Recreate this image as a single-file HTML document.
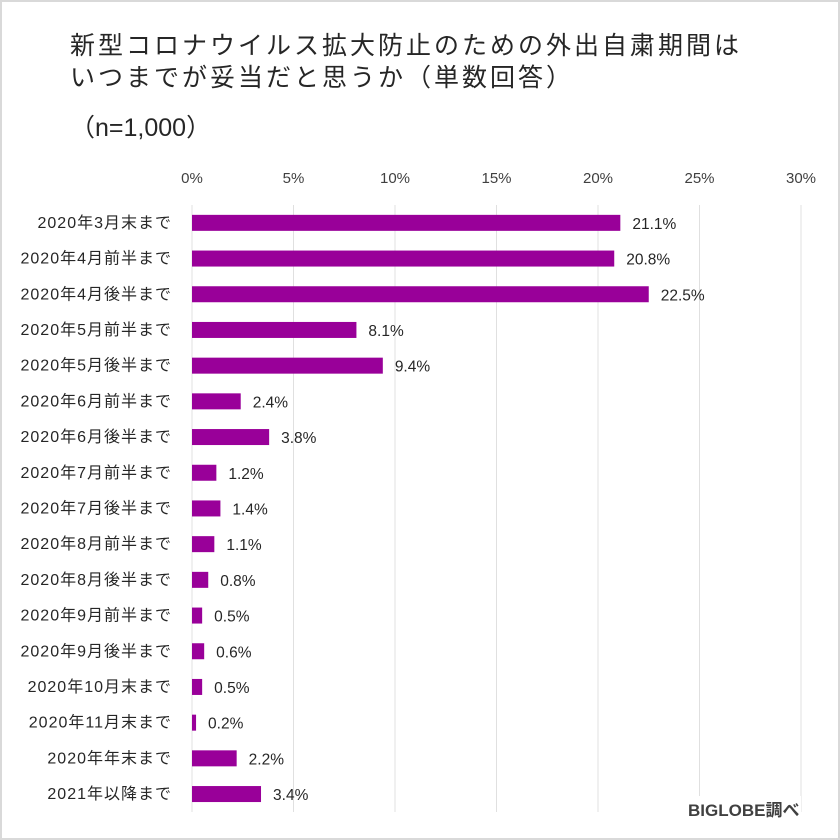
<!DOCTYPE html>
<html><head><meta charset="utf-8"><style>
body{margin:0;background:#fff;}
#wrap{position:relative;width:840px;height:840px;box-sizing:border-box;border:2px solid #d9d9d9;background:#fff;font-family:"Liberation Sans","Noto Sans CJK JP",sans-serif;color:#262626;overflow:hidden;}
.t{position:absolute;left:68px;font-size:25px;letter-spacing:3px;color:#262626;white-space:nowrap;}
svg{position:absolute;left:-2px;top:-2px;}
</style></head><body>
<div id="wrap">
<div class="t" style="top:24px">新型コロナウイルス拡大防止のための外出自粛期間は</div>
<div class="t" style="top:56px">いつまでが妥当だと思うか（単数回答）</div>
<div class="t" style="top:106px;letter-spacing:0">（n=1,000）</div>
<svg id="c" width="840" height="840"></svg>
<div style="position:absolute;left:684px;top:794px;font-size:17px;font-weight:bold;color:#404040;background:#fff;padding:0 2px;">BIGLOBE調べ</div>
</div>
<script>
const categories=["2020年3月末まで","2020年4月前半まで","2020年4月後半まで","2020年5月前半まで","2020年5月後半まで","2020年6月前半まで","2020年6月後半まで","2020年7月前半まで","2020年7月後半まで","2020年8月前半まで","2020年8月後半まで","2020年9月前半まで","2020年9月後半まで","2020年10月末まで","2020年11月末まで","2020年年末まで","2021年以降まで"];
const values=[21.1,20.8,22.5,8.1,9.4,2.4,3.8,1.2,1.4,1.1,0.8,0.5,0.6,0.5,0.2,2.2,3.4];
const ticks=[0,5,10,15,20,25,30];
const NS="http://www.w3.org/2000/svg";
const svg=document.getElementById('c');
const x0=192,x1=801,xmax=30;
const xs=v=>x0+(x1-x0)*v/xmax;
const yTop=205,rowH=35.7;
const yc=i=>yTop+rowH*(i+0.5);
function mk(tag,a){const e=document.createElementNS(NS,tag);for(const k in a)e.setAttribute(k,a[k]);svg.appendChild(e);return e;}
ticks.forEach(t=>{
  const l=mk('line',{x1:xs(t),x2:xs(t),y1:yTop,y2:812,stroke:'#e0e0e0','stroke-width':1});
  
  
  const tx=mk('text',{x:xs(t),y:183,'text-anchor':'middle','font-size':15,fill:'#404040'});
  tx.textContent=t+'%';
  
  
});
categories.forEach((c,i)=>{
  const y=yc(i);
  const r=mk('rect',{x:x0,y:y-8,width:xs(values[i])-x0,height:16,fill:'#990099'});
  
  
  const lb=mk('text',{x:172,y:y+5,'text-anchor':'end','font-size':16,'letter-spacing':1,fill:'#262626'});
  lb.textContent=c;
  
  
  const v=mk('text',{x:xs(values[i])+12,y:y+6,'font-size':15.5,fill:'#262626'});
  v.textContent=values[i].toFixed(1)+'%';
  
  
});
</script>
</body></html>
